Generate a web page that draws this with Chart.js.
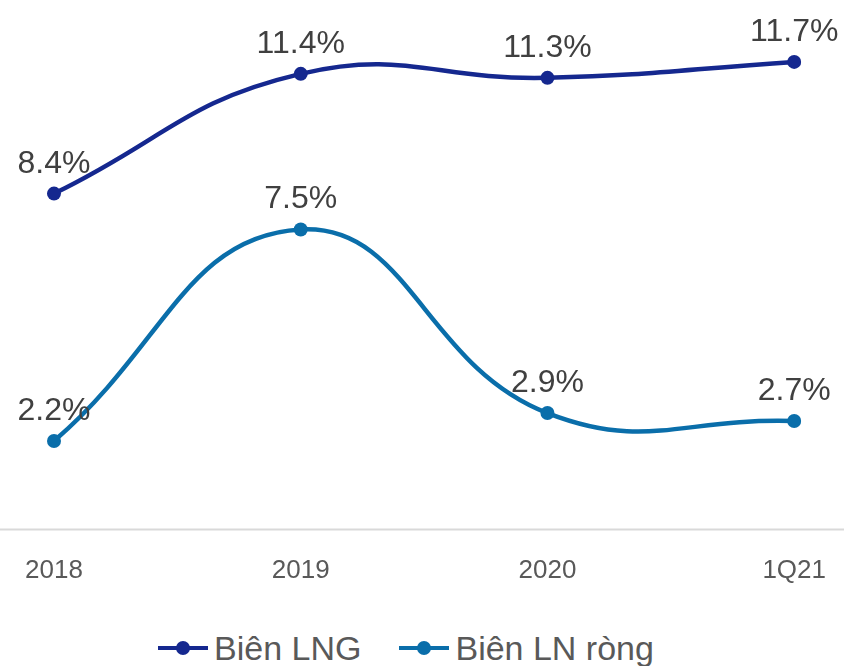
<!DOCTYPE html>
<html>
<head>
<meta charset="utf-8">
<script src="https://cdn.jsdelivr.net/npm/chart.js@4"></script>
<style>
    html, body { margin: 0; padding: 0; background: #fff; }
    #wrap { position: relative; width: 844px; height: 666px; font-family: 'Liberation Sans', Arial, sans-serif; }
    #chart-box { position: absolute; left: 0; top: 0; width: 844px; height: 604px; }
    #legend {
        position: absolute; left: 0; top: 631px; width: 812px; height: 34px;
        display: flex; justify-content: center; align-items: center;
        font-size: 34px; line-height: 34px; color: #595959; white-space: nowrap;
    }
    .legend-item { display: flex; align-items: center; }
    .legend-item + .legend-item { margin-left: 38px; }
    .legend-symbol { position: relative; width: 50px; height: 14px; margin-right: 6px; }
    .legend-symbol .line { position: absolute; left: 0; right: 0; top: 5px; height: 4px; }
    .legend-symbol .dot { position: absolute; left: 18px; top: 0; width: 14px; height: 14px; border-radius: 50%; }
</style>
</head>
<body>
<div id="wrap">
    <div id="chart-box"><canvas id="chart"></canvas></div>
    <div id="legend"></div>
</div>
<script>
// --- Data ---
const categories = ['2018', '2019', '2020', '1Q21'];
const bienLNG = [8.4, 11.4, 11.3, 11.7];
const bienLNRong = [2.2, 7.5, 2.9, 2.7];
const seriesNames = ['Biên LNG', 'Biên LN ròng'];

const FONT = "'Liberation Sans', Arial, sans-serif";
const TEXT_COLOR = '#595959';
const LABEL_COLOR = '#404040';
const colors = ['#15288F', '#0A6EAA'];

// value labels above each point
const valueLabels = {
    id: 'valueLabels',
    afterDatasetsDraw(chart) {
        const ctx = chart.ctx;
        ctx.save();
        ctx.font = `32px ${FONT}`;
        ctx.fillStyle = LABEL_COLOR;
        ctx.textAlign = 'center';
        ctx.textBaseline = 'alphabetic';
        chart.data.datasets.forEach((ds, i) => {
            chart.getDatasetMeta(i).data.forEach((pt, j) => {
                ctx.fillText(ds.data[j].toFixed(1) + '%', pt.x, pt.y - 21);
            });
        });
        ctx.restore();
    }
};

// horizontal base line running the full width
const baseLine = {
    id: 'baseLine',
    beforeDatasetsDraw(chart) {
        const ctx = chart.ctx;
        const y = Math.round(chart.chartArea.bottom) + 0.5;
        ctx.save();
        ctx.strokeStyle = '#D9D9D9';
        ctx.lineWidth = 2;
        ctx.beginPath();
        ctx.moveTo(0, y);
        ctx.lineTo(chart.width, y);
        ctx.stroke();
        ctx.restore();
    }
};

const chart = new Chart(document.getElementById('chart'), {
    type: 'line',
    data: {
        labels: categories,
        datasets: [bienLNG, bienLNRong].map((values, i) => ({
            label: seriesNames[i],
            data: values,
            borderColor: colors[i],
            backgroundColor: colors[i],
            borderWidth: 4.5,
            pointRadius: 7,
            pointHoverRadius: 7,
            pointBackgroundColor: colors[i],
            pointBorderWidth: 0,
            tension: 0.45,
            fill: false
        }))
    },
    options: {
        responsive: true,
        maintainAspectRatio: false,
        animation: false,
        layout: { padding: { left: 54, right: 46, top: 10, bottom: 0 } },
        plugins: {
            tooltip: { enabled: false },
            legend: { display: false }
        },
        scales: {
            x: {
                offset: false,
                grid: { display: false },
                border: { display: false },
                ticks: {
                    color: TEXT_COLOR,
                    font: { family: FONT, size: 26 },
                    padding: 18,
                    maxRotation: 0
                }
            },
            y: {
                display: false,
                min: 0,
                max: 13
            }
        }
    },
    plugins: [valueLabels, baseLine]
});

// --- HTML legend ---
function renderLegend() {
    const legend = document.getElementById('legend');
    legend.innerHTML = chart.data.datasets.map(ds => `
        <div class="legend-item">
            <span class="legend-symbol">
                <span class="line" style="background:${ds.borderColor}"></span>
                <span class="dot" style="background:${ds.borderColor}"></span>
            </span>
            <span>${ds.label}</span>
        </div>`).join('');
}
renderLegend();
</script>
</body>
</html>
